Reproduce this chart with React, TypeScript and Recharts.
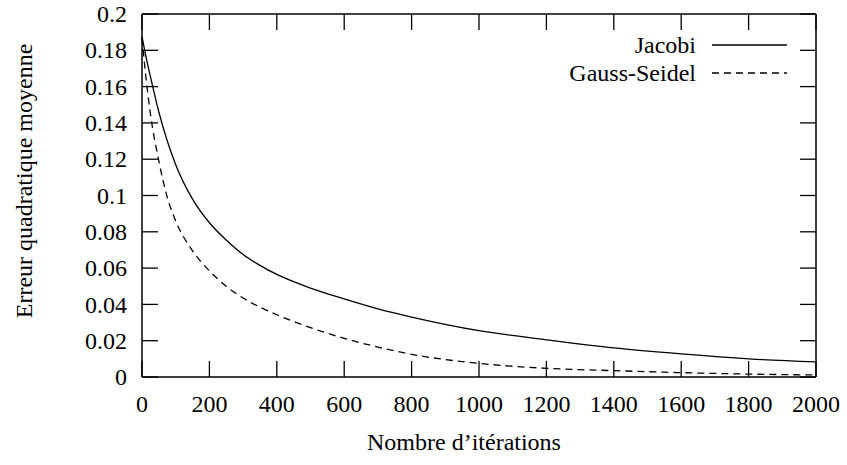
import React from 'react';
import { LineChart, Line, XAxis, YAxis } from 'recharts';

const iterations = [0, 10, 25, 50, 75, 100, 150, 200, 250, 300, 350, 400, 500, 600, 700, 800, 1000, 1200, 1400, 1600, 1800, 2000];
const jacobi = [0.1875, 0.178, 0.1655, 0.146, 0.13, 0.117, 0.098, 0.085, 0.0755, 0.0675, 0.0615, 0.0565, 0.049, 0.043, 0.0375, 0.033, 0.0255, 0.0205, 0.016, 0.0127, 0.01, 0.0083];
const gaussSeidel = [0.187, 0.168, 0.145, 0.119, 0.099, 0.086, 0.0695, 0.0585, 0.05, 0.0435, 0.0385, 0.0343, 0.0272, 0.0213, 0.0165, 0.0125, 0.0075, 0.0048, 0.0035, 0.0024, 0.0016, 0.0011];

const xTicks = [0, 200, 400, 600, 800, 1000, 1200, 1400, 1600, 1800, 2000];
const yTicks = [0, 0.02, 0.04, 0.06, 0.08, 0.1, 0.12, 0.14, 0.16, 0.18, 0.2];

const series = [
  { key: 'jacobi', name: 'Jacobi', dash: undefined },
  { key: 'gaussSeidel', name: 'Gauss-Seidel', dash: '7 5' },
];

const data = iterations.map((it, i) => ({
  it,
  jacobi: jacobi[i],
  gaussSeidel: gaussSeidel[i],
}));

const W = 847;
const H = 465;
const MARGIN = { top: 13, right: 30, bottom: 0, left: 0 };
const X_AXIS_H = 88;
const Y_AXIS_W = 142;
const X_MAX = xTicks[xTicks.length - 1];
const Y_MAX = yTicks[yTicks.length - 1];

// plot frame, derived from the chart margins and axis sizes
const PLOT = {
  left: MARGIN.left + Y_AXIS_W,
  right: W - MARGIN.right - 1,
  top: MARGIN.top + 1,
  bottom: H - MARGIN.bottom - X_AXIS_H,
};
const TICK = 16; // inward tick length (gnuplot style)

const FONT = '"Liberation Serif", "DejaVu Serif", serif';
const FS = 24;
const axisLine = { stroke: '#000', strokeWidth: 1.5 };

const BottomTick = (props: any) => {
  const { x, y, payload } = props;
  return (
    <text x={x} y={y + 35} textAnchor="middle" fontFamily={FONT} fontSize={FS} fill="#000">
      {payload.value}
    </text>
  );
};

const LeftTick = (props: any) => {
  const { x, y, payload } = props;
  return (
    <text x={x - 15} y={y} dy="0.34em" textAnchor="end" fontFamily={FONT} fontSize={FS} fill="#000">
      {payload.value}
    </text>
  );
};

const NoLabel = () => <g />;

// mirrored inward tick marks on all four sides of the frame
const FrameTicks = () => {
  const px = (v: number) => PLOT.left + (v / X_MAX) * (PLOT.right - PLOT.left);
  const py = (v: number) => PLOT.bottom - (v / Y_MAX) * (PLOT.bottom - PLOT.top);
  return (
    <svg
      width={W}
      height={H}
      style={{ position: 'absolute', left: 0, top: 0, pointerEvents: 'none' }}
    >
      <g stroke="#000" strokeWidth={1.3}>
        {xTicks.map((t) => (
          <g key={`x${t}`}>
            <line x1={px(t)} x2={px(t)} y1={PLOT.bottom} y2={PLOT.bottom - TICK} />
            <line x1={px(t)} x2={px(t)} y1={PLOT.top} y2={PLOT.top + TICK} />
          </g>
        ))}
        {yTicks.map((t) => (
          <g key={`y${t}`}>
            <line x1={PLOT.left} x2={PLOT.left + TICK} y1={py(t)} y2={py(t)} />
            <line x1={PLOT.right} x2={PLOT.right - TICK} y1={py(t)} y2={py(t)} />
          </g>
        ))}
      </g>
    </svg>
  );
};

// key drawn over the chart, top right of the frame
const LegendBox = () => (
  <svg
    width={300}
    height={70}
    style={{ position: 'absolute', left: 512, top: 36, overflow: 'visible' }}
  >
    {series.map((s, i) => (
      <g key={s.key}>
        <text
          x={184}
          y={9 + i * 28}
          dy="0.34em"
          textAnchor="end"
          fontFamily={FONT}
          fontSize={FS}
          fill="#000"
        >
          {s.name}
        </text>
        <line
          x1={200}
          x2={275}
          y1={9 + i * 28}
          y2={9 + i * 28}
          stroke="#000"
          strokeWidth={1.3}
          strokeDasharray={s.dash}
        />
      </g>
    ))}
  </svg>
);

export default function App() {
  return (
    <div style={{ position: 'absolute', left: 0, top: 0, width: W, height: H, background: '#fff' }}>
      <LineChart width={W} height={H} data={data} margin={MARGIN}>
        <XAxis
          xAxisId="bottom"
          dataKey="it"
          type="number"
          domain={[0, X_MAX]}
          ticks={xTicks}
          interval={0}
          height={X_AXIS_H}
          tickSize={0}
          tickMargin={0}
          tickLine={false}
          axisLine={axisLine}
          tick={<BottomTick />}
          label={() => (
            <text x={464} y={450} textAnchor="middle" fontFamily={FONT} fontSize={FS} fill="#000">
              Nombre d’itérations
            </text>
          )}
        />
        <XAxis
          xAxisId="top"
          orientation="top"
          dataKey="it"
          type="number"
          domain={[0, X_MAX]}
          ticks={xTicks}
          height={1}
          tickSize={0}
          tickLine={false}
          axisLine={axisLine}
          tick={<NoLabel />}
        />
        <YAxis
          yAxisId="left"
          type="number"
          domain={[0, Y_MAX]}
          ticks={yTicks}
          interval={0}
          width={Y_AXIS_W}
          tickSize={0}
          tickMargin={0}
          tickLine={false}
          axisLine={axisLine}
          tick={<LeftTick />}
          label={() => (
            <text
              x={24}
              y={181}
              transform="rotate(-90 24 181)"
              dy="0.34em"
              textAnchor="middle"
              fontFamily={FONT}
              fontSize={FS}
              fill="#000"
            >
              Erreur quadratique moyenne
            </text>
          )}
        />
        <YAxis
          yAxisId="right"
          orientation="right"
          type="number"
          domain={[0, Y_MAX]}
          ticks={yTicks}
          width={1}
          tickSize={0}
          tickLine={false}
          axisLine={axisLine}
          tick={<NoLabel />}
        />
        {series.map((s) => (
          <Line
            key={s.key}
            xAxisId="bottom"
            yAxisId="left"
            type="monotone"
            dataKey={s.key}
            name={s.name}
            stroke="#000"
            strokeWidth={1.3}
            strokeDasharray={s.dash}
            dot={false}
            activeDot={false}
            isAnimationActive={false}
          />
        ))}
      </LineChart>
      <FrameTicks />
      <LegendBox />
    </div>
  );
}
